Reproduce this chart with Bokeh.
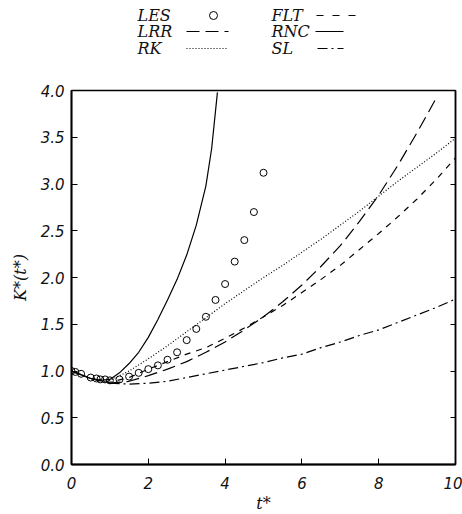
from bokeh.plotting import figure
from bokeh.models import Range1d, LinearAxis, FixedTicker, CustomJSTickFormatter
from bokeh.layouts import column
from bokeh.core.properties import value
from bokeh.embed import file_html
from bokeh.resources import INLINE

# ---- data ----
les_t = [0, 0.1, 0.25, 0.5, 0.65, 0.75, 0.875, 1.0, 1.25, 1.5, 1.75, 2.0, 2.25, 2.5, 2.75,
         3.0, 3.25, 3.5, 3.75, 4.0, 4.25, 4.5, 4.75, 5.0]
les_k = [1.0, 0.99, 0.97, 0.93, 0.92, 0.91, 0.91, 0.90, 0.91, 0.94, 0.98, 1.02, 1.06, 1.12, 1.20,
         1.33, 1.45, 1.58, 1.76, 1.93, 2.17, 2.40, 2.70, 3.12]

rnc_t = [0, 0.25, 0.5, 0.75, 1.0, 1.25, 1.5, 1.75, 2.0, 2.25, 2.5, 2.75, 3.0, 3.25, 3.5, 3.65, 3.8]
rnc_k = [1.00, 0.96, 0.92, 0.90, 0.91, 0.98, 1.08, 1.20, 1.36, 1.55, 1.76, 1.98, 2.24, 2.56, 2.98, 3.38, 3.98]

t_grid = [0, 0.5, 1.0, 1.5, 2.0, 2.5, 3.0, 3.5, 4.0, 4.5, 5.0, 5.5, 6.0, 6.5, 7.0, 7.5, 8.0, 8.5, 9.0, 9.5, 10.0]
flt_k = [1.0, 0.92, 0.88, 0.93, 1.02, 1.10, 1.18, 1.25, 1.35, 1.46, 1.58, 1.70, 1.84, 1.98, 2.13, 2.30,
         2.47, 2.65, 2.84, 3.05, 3.28]
lrr_t = t_grid[:-1]
lrr_k = [1.0, 0.92, 0.87, 0.89, 0.95, 1.02, 1.10, 1.20, 1.31, 1.44, 1.58, 1.74, 1.92, 2.12, 2.34, 2.60,
         2.88, 3.20, 3.55, 3.92]
rk_k = [1.0, 0.92, 0.90, 1.00, 1.13, 1.27, 1.42, 1.57, 1.72, 1.86, 2.0, 2.13, 2.27, 2.41, 2.56, 2.71,
        2.87, 3.03, 3.18, 3.33, 3.49]
sl_k = [1.0, 0.92, 0.87, 0.86, 0.87, 0.89, 0.93, 0.97, 1.01, 1.05, 1.09, 1.14, 1.18, 1.25, 1.31, 1.38,
        1.44, 1.52, 1.60, 1.68, 1.77]

x_ticks = [0, 2, 4, 6, 8, 10]
y_ticks = [0.0, 0.5, 1.0, 1.5, 2.0, 2.5, 3.0, 3.5, 4.0]

legend_left = ["LES", "LRR", "RK"]
legend_right = ["FLT", "RNC", "SL"]

SERIF = "DejaVu Serif"
SANS = "DejaVu Sans"

# ---- legend strip (pixel coordinates, y downward) ----
lg = figure(frame_width=384, frame_height=66, min_border_left=71, min_border_right=7,
            min_border_top=0, min_border_bottom=0,
            x_range=Range1d(71, 455), y_range=Range1d(66, 0),
            x_axis_location=None, y_axis_location=None,
            output_backend="svg", toolbar_location=None)
lg.grid.visible = False
lg.outline_line_color = None
row_y = [15, 31, 48]
lg.text(x=[137] * 3, y=row_y, text=legend_left, text_font=value(SERIF), text_font_style="italic",
        text_font_size="16px", text_baseline="middle", text_align="left", text_color="#111111")
lg.text(x=[271] * 3, y=row_y, text=legend_right, text_font=value(SERIF), text_font_style="italic",
        text_font_size="16px", text_baseline="middle", text_align="left", text_color="#111111")
lg.scatter([213], [15], marker="circle", size=8, fill_color=None, line_color="black", line_width=1)
lg.line([186, 228], [31, 31], line_color="black", line_width=1.2, line_dash="13 6")
lg.line([186, 228], [48, 48], line_color="black", line_width=1.2, line_dash="1 2")
lg.line([316, 363], [15, 15], line_color="black", line_width=1.2, line_dash="7 9")
lg.line([315, 343], [31, 31], line_color="black", line_width=1.2)
lg.line([317, 343], [48, 48], line_color="black", line_width=1.2, line_dash="10 4 2 4")

# ---- main plot ----
p = figure(frame_width=384, frame_height=374, min_border_left=71, min_border_top=24,
           min_border_right=7, min_border_bottom=50,
           x_range=Range1d(0, 10), y_range=Range1d(0, 4),
           output_backend="svg", toolbar_location=None, x_axis_label="t*", y_axis_label="K*(t*)")
p.grid.visible = False
p.outline_line_color = "black"
p.outline_line_width = 1.5
p.background_fill_color = "white"
p.border_fill_color = "white"

for ax in [p.xaxis[0], p.yaxis[0]]:
    ax.major_tick_in = 6
    ax.major_tick_out = 0
    ax.minor_tick_line_color = None
    ax.axis_line_width = 1.8
    ax.major_label_text_font = SANS
    ax.major_label_text_font_style = "italic"
    ax.major_label_text_font_size = "15px"
    ax.major_label_text_color = "#111111"
    ax.axis_label_text_font = SERIF
    ax.axis_label_text_font_style = "italic"
    ax.axis_label_text_font_size = "16px"
    ax.axis_label_text_color = "#111111"
p.xaxis.ticker = FixedTicker(ticks=x_ticks)
p.yaxis.ticker = FixedTicker(ticks=y_ticks)
p.yaxis.formatter = CustomJSTickFormatter(code="return tick.toFixed(1);")
p.xaxis.major_label_standoff = 12
p.yaxis.major_label_standoff = 7
p.xaxis.axis_label_standoff = 2
p.yaxis.axis_label_standoff = 8

right = LinearAxis(ticker=FixedTicker(ticks=y_ticks), major_tick_in=5, major_tick_out=0,
                   minor_tick_line_color=None, axis_line_width=1.5,
                   formatter=CustomJSTickFormatter(code="return '';"))
p.add_layout(right, "right")

# ---- series ----
p.line(rnc_t, rnc_k, line_color="black", line_width=1.2)
p.line(t_grid, flt_k, line_color="black", line_width=1.2, line_dash="6 6")
p.line(lrr_t, lrr_k, line_color="black", line_width=1.2, line_dash="13 6")
p.line(t_grid, rk_k, line_color="black", line_width=1.2, line_dash="1 2")
p.line(t_grid, sl_k, line_color="black", line_width=1.2, line_dash="10 4 2 4")
p.scatter(les_t, les_k, marker="circle", size=7, fill_color=None, line_color="black", line_width=1)

layout = column(lg, p, spacing=0)
open("out.html", "w").write(file_html(layout, INLINE))
